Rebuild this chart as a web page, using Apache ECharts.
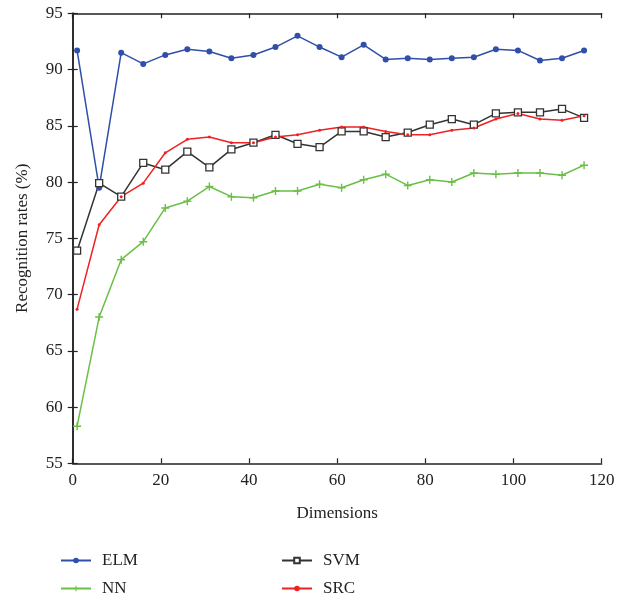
<!DOCTYPE html>
<html>
<head>
<meta charset="utf-8">
<script src="https://cdn.jsdelivr.net/npm/echarts@6/dist/echarts.min.js"></script>
<style>
  html, body { margin: 0; padding: 0; background: #fff; }
  #chart { width: 629px; height: 598px; }
</style>
</head>
<body>
<div id="chart"></div>
<script>
// Feature dimensions tested
const dimensions = [1, 6, 11, 16, 21, 26, 31, 36, 41, 46, 51, 56, 61, 66, 71, 76, 81, 86, 91, 96, 101, 106, 111, 116];

// Recognition rates (%) per classifier
const elm = [91.7, 79.5, 91.5, 90.5, 91.3, 91.8, 91.6, 91.0, 91.3, 92.0, 93.0, 92.0, 91.1, 92.2, 90.9, 91.0, 90.9, 91.0, 91.1, 91.8, 91.7, 90.8, 91.0, 91.7];
const nn  = [58.3, 68.0, 73.1, 74.7, 77.7, 78.3, 79.6, 78.7, 78.6, 79.2, 79.2, 79.8, 79.5, 80.2, 80.7, 79.7, 80.2, 80.0, 80.8, 80.7, 80.8, 80.8, 80.6, 81.5];
const svm = [73.9, 79.9, 78.7, 81.7, 81.1, 82.7, 81.3, 82.9, 83.5, 84.2, 83.4, 83.1, 84.5, 84.5, 84.0, 84.4, 85.1, 85.6, 85.1, 86.1, 86.2, 86.2, 86.5, 85.7];
const src = [68.7, 76.2, 78.7, 79.9, 82.6, 83.8, 84.0, 83.5, 83.5, 84.0, 84.2, 84.6, 84.9, 84.9, 84.5, 84.2, 84.2, 84.6, 84.8, 85.6, 86.1, 85.6, 85.5, 85.9];

const xTicks = [0, 20, 40, 60, 80, 100, 120];
const yTicks = [55, 60, 65, 70, 75, 80, 85, 90, 95];

const FONT = '"Liberation Serif", "DejaVu Serif", serif';
const plusPath = 'path://M3.3,0H4.7V3.3H8V4.7H4.7V8H3.3V4.7H0V3.3H3.3Z';

const pairs = arr => dimensions.map((d, i) => [d, arr[i]]);

const chart = echarts.init(document.getElementById('chart'));

const axisLine = { show: true, lineStyle: { color: '#222', width: 1.5 } };
const tick = { show: true, inside: true, length: 5, lineStyle: { color: '#222', width: 1.2 } };

// one legend entry per block: two columns of two rows
const legendAt = (name, left, top) => ({
  data: [name], left, top, itemWidth: 30, itemHeight: 7, itemGap: 0,
  textStyle: { color: '#222', fontFamily: FONT, fontSize: 17, padding: [0, 0, 0, 6] }
});

chart.setOption({
  animation: false,
  backgroundColor: '#fff',
  grid: { left: 72.7, right: 27.3, top: 13.3, bottom: 134.7 },
  xAxis: [{
    type: 'value', min: xTicks[0], max: xTicks[xTicks.length - 1], interval: 20,
    axisLine, axisTick: tick, splitLine: { show: false },
    axisLabel: { color: '#222', fontFamily: FONT, fontSize: 17, margin: 9 },
    name: 'Dimensions', nameLocation: 'middle', nameGap: 42,
    nameTextStyle: { color: '#222', fontFamily: FONT, fontSize: 17 }
  }, {
    type: 'value', position: 'top', min: xTicks[0], max: xTicks[xTicks.length - 1], interval: 20,
    axisLine, axisTick: tick, axisLabel: { show: false }, splitLine: { show: false }
  }],
  yAxis: [{
    type: 'value', min: yTicks[0], max: yTicks[yTicks.length - 1], interval: 5,
    axisLine, axisTick: tick, splitLine: { show: false },
    axisLabel: { color: '#222', fontFamily: FONT, fontSize: 17, margin: 10 },
    name: 'Recognition rates (%)', nameLocation: 'middle', nameGap: 42, nameRotate: 90,
    nameTextStyle: { color: '#222', fontFamily: FONT, fontSize: 17 }
  }, {
    type: 'value', position: 'right', min: yTicks[0], max: yTicks[yTicks.length - 1], interval: 5,
    axisLine, axisTick: tick, axisLabel: { show: false }, splitLine: { show: false }
  }],
  legend: [
    legendAt('ELM', 55, 547),
    legendAt('NN', 55, 575),
    legendAt('SVM', 276, 547),
    legendAt('SRC', 276, 575)
  ],
  series: [{
    name: 'ELM', type: 'line', data: pairs(elm),
    symbol: 'circle', symbolSize: 6,
    lineStyle: { color: '#2f4fa8', width: 1.5 },
    itemStyle: { color: '#2f4fa8' }
  }, {
    name: 'NN', type: 'line', data: pairs(nn),
    symbol: plusPath, symbolSize: 8,
    lineStyle: { color: '#6abf45', width: 1.5 },
    itemStyle: { color: '#6abf45' }
  }, {
    name: 'SVM', type: 'line', data: pairs(svm),
    symbol: 'rect', symbolSize: 7,
    lineStyle: { color: '#333', width: 1.5 },
    itemStyle: { color: '#fff', borderColor: '#333', borderWidth: 1.3 }
  }, {
    name: 'SRC', type: 'line', data: pairs(src),
    symbol: 'circle', symbolSize: 3,
    lineStyle: { color: '#ee2222', width: 1.5 },
    itemStyle: { color: '#ee2222' }
  }]
});
</script>
</body>
</html>
